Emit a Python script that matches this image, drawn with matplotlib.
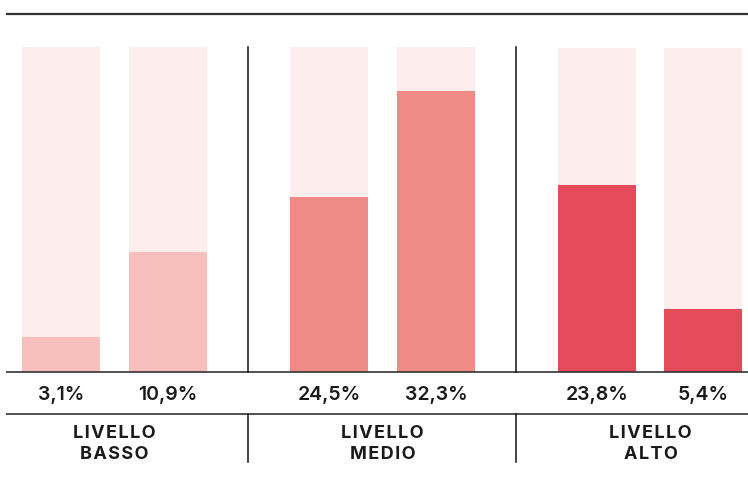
import matplotlib
matplotlib.use("Agg")
import matplotlib.pyplot as plt

# data
labels = ["3,1%", "10,9%", "24,5%", "32,3%", "23,8%", "5,4%"]
fill_share = [0.108, 0.369, 0.538, 0.865, 0.574, 0.194]   # filled part of each column
groups = ["LIVELLO\nBASSO", "LIVELLO\nMEDIO", "LIVELLO\nALTO"]
group_colors = ["#f7c0bc", "#ef8a87", "#e64b5c"]
back_color = "#fdeeed"

W, H = 748, 491
fig = plt.figure(figsize=(W / 100, H / 100), dpi=100)

# bar layout (pixels)
x_pos = [61, 168, 329, 436, 597.5, 703.5]
bar_w = 78
base_y, top_y = 372, 47
back_h = [1, 1, 1, 1, 0.997, 0.997]

ax = fig.add_axes([0, 1 - base_y / H, 1, (base_y - top_y) / H])
ax.set_xlim(0, W)
ax.set_ylim(0, 1)
ax.axis("off")

cols = [group_colors[i // 2] for i in range(len(labels))]
ax.bar(x_pos, back_h, width=bar_w, color=back_color, linewidth=0)
ax.bar(x_pos, fill_share, width=bar_w, color=cols, linewidth=0)

# overlay for rules and text, pixel coords
ov = fig.add_axes([0, 0, 1, 1])
ov.set_xlim(0, W)
ov.set_ylim(H, 0)
ov.axis("off")
ov.patch.set_alpha(0)

ov.plot([6, W], [13.5, 13.5], color="#333333", lw=1.6, solid_capstyle="butt")
ov.plot([6, W], [372, 372], color="#333333", lw=1.2, solid_capstyle="butt")
ov.plot([6, W], [414, 414], color="#333333", lw=1.2, solid_capstyle="butt")
for dx in [248, 516]:
    ov.plot([dx, dx], [47, 372], color="#111111", lw=1.1)
    ov.plot([dx, dx], [414, 462], color="#111111", lw=1.1)

for x, lab in zip(x_pos, labels):
    ov.text(x, 395, lab, ha="center", va="center", fontsize=14,
            family="Inter", weight="semibold", color="#1a1a1a")


def spaced(s):
    # a bit of letter tracking
    return "\n".join("\u200a".join(line) for line in s.split("\n"))


g_centers = [114.5, 382.5, 650.5]
for gx, g in zip(g_centers, groups):
    ov.text(gx, 444, spaced(g), ha="center", va="center", fontsize=13,
            family=["Inter", "DejaVu Sans"], weight="bold", color="#1a1a1a",
            linespacing=1.25)

fig.savefig("out.png", dpi=100)
